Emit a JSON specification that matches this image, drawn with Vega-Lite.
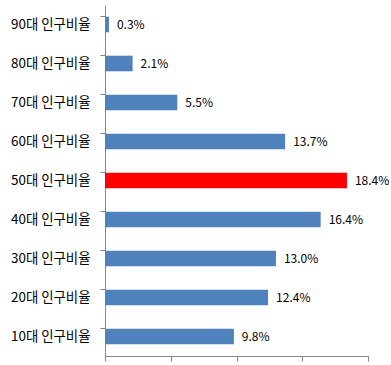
{
  "$schema": "https://vega.github.io/schema/vega-lite/v6.json",
  "autosize": "none",
  "width": 263,
  "height": 351,
  "padding": {"left": 105, "top": 5, "right": 23, "bottom": 9},
  "background": "white",
  "data": {
    "values": [
      {"group": "90대 인구비율", "value": 0.3, "label": "0.3%", "highlight": "no"},
      {"group": "80대 인구비율", "value": 2.1, "label": "2.1%", "highlight": "no"},
      {"group": "70대 인구비율", "value": 5.5, "label": "5.5%", "highlight": "no"},
      {"group": "60대 인구비율", "value": 13.7, "label": "13.7%", "highlight": "no"},
      {"group": "50대 인구비율", "value": 18.4, "label": "18.4%", "highlight": "yes"},
      {"group": "40대 인구비율", "value": 16.4, "label": "16.4%", "highlight": "no"},
      {"group": "30대 인구비율", "value": 13.0, "label": "13.0%", "highlight": "no"},
      {"group": "20대 인구비율", "value": 12.4, "label": "12.4%", "highlight": "no"},
      {"group": "10대 인구비율", "value": 9.8, "label": "9.8%", "highlight": "no"}
    ]
  },
  "config": {
    "view": {"stroke": null},
    "font": "Noto Sans CJK KR"
  },
  "encoding": {
    "y": {
      "field": "group",
      "type": "nominal",
      "sort": null,
      "scale": {"paddingInner": 0.6, "paddingOuter": 0.3},
      "axis": {
        "title": null,
        "bandPosition": 0,
        "domainColor": "#868686",
        "tickColor": "#868686",
        "tickSize": 5,
        "labelPadding": 10,
        "labelFontSize": 13.4,
        "labelColor": "#000000",
        "labelFont": "Noto Sans CJK KR",
        "grid": false
      }
    },
    "x": {
      "field": "value",
      "type": "quantitative",
      "scale": {"domain": [0, 20], "nice": false},
      "axis": {
        "title": null,
        "values": [0, 5, 10, 15, 20],
        "labels": false,
        "grid": false,
        "domainColor": "#868686",
        "tickColor": "#868686",
        "tickSize": 5
      }
    }
  },
  "layer": [
    {
      "mark": {"type": "bar"},
      "encoding": {
        "color": {
          "field": "highlight",
          "type": "nominal",
          "scale": {"domain": ["no", "yes"], "range": ["#4F81BD", "#FF0000"]},
          "legend": null
        }
      }
    },
    {
      "mark": {"type": "text", "align": "left", "dx": 8, "fontSize": 12, "color": "#000000", "font": "Noto Sans CJK KR"},
      "encoding": {
        "text": {"field": "label"}
      }
    }
  ]
}
